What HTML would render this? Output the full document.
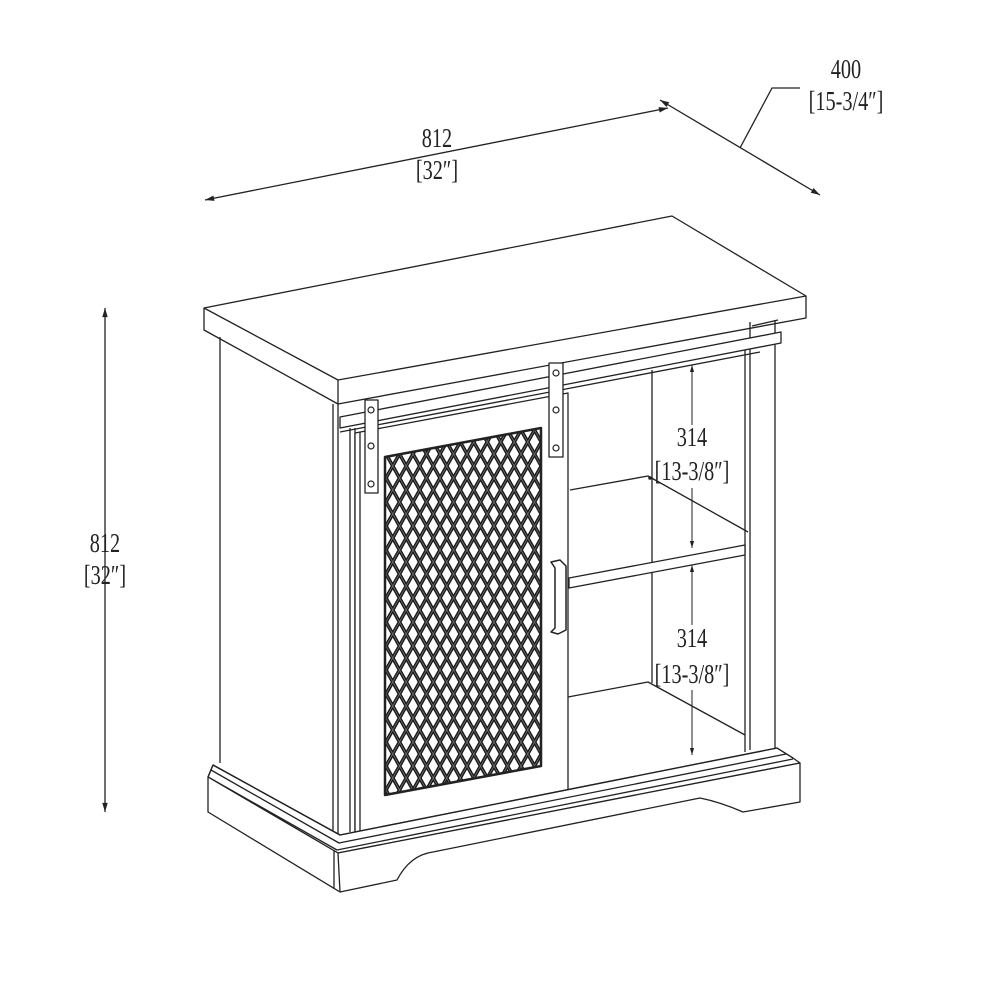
<!DOCTYPE html>
<html><head><style>
html,body{margin:0;padding:0;background:#fff;}
svg{display:block}
text{font-family:"Liberation Serif",serif;font-size:27px;fill:#222;}
</style></head><body>
<svg width="1000" height="1000" viewBox="0 0 1000 1000" xmlns="http://www.w3.org/2000/svg">
<defs>
<marker id="ar" viewBox="0 0 10 10" refX="10" refY="5" markerWidth="9" markerHeight="7" orient="auto-start-reverse"><path d="M0,2 L10,5 L0,8z" fill="#222"/></marker>
<pattern id="mesh" x="386" y="430" width="13.5" height="24" patternUnits="userSpaceOnUse">
<path d="M-6.75,-12 L20.25,36 M20.25,-12 L-6.75,36" stroke="#1a1a1a" stroke-width="3.6" fill="none"/>
<path d="M-6.75,-12 L20.25,36 M20.25,-12 L-6.75,36" stroke="#777" stroke-width="0.7" fill="none"/>
</pattern>
</defs>
<g fill="none" stroke="#222" stroke-width="1.3" stroke-linejoin="round">
<line x1="205" y1="200" x2="668" y2="108" marker-start="url(#ar)" marker-end="url(#ar)"/>
<line x1="660" y1="100" x2="820" y2="195" marker-start="url(#ar)" marker-end="url(#ar)"/>
<polyline points="740,148 772,88 800,88"/>
<line x1="105" y1="308" x2="105" y2="812" marker-start="url(#ar)" marker-end="url(#ar)"/>
<line x1="692" y1="365" x2="692" y2="425" marker-start="url(#ar)" stroke-width="1"/>
<line x1="692" y1="488" x2="692" y2="548" marker-end="url(#ar)" stroke-width="1"/>
<line x1="692" y1="565" x2="692" y2="625" marker-start="url(#ar)" stroke-width="1"/>
<line x1="692" y1="690" x2="692" y2="755" marker-end="url(#ar)" stroke-width="1"/>
<polygon points="204,308 672,216 806,296 338,380" fill="#fff"/>
<polyline points="204,308 204,330 338,404 806,318 806,296"/>
<line x1="338" y1="380" x2="338" y2="404"/>
<line x1="220" y1="337" x2="220" y2="763"/>
<line x1="333" y1="404" x2="333" y2="832"/>
<line x1="338" y1="404" x2="338" y2="834"/>
<line x1="350" y1="428" x2="350" y2="832"/>
<line x1="355" y1="428" x2="355" y2="832"/>
<line x1="750" y1="322" x2="750" y2="750"/>
<line x1="775" y1="320" x2="775" y2="748"/>
<line x1="745" y1="350" x2="745" y2="752"/>
<line x1="752" y1="326" x2="778" y2="320"/>
<polygon points="340,417 781,332 781,343 340,428" fill="#fff"/>
<line x1="340" y1="432" x2="760" y2="352"/>
<polygon points="355,433 568,393 568,790 355,832" fill="#fff"/>
<line x1="360" y1="432" x2="360" y2="831"/>
<polygon points="385,457 541,428 541,766 385,795" fill="url(#mesh)" stroke-width="2.5"/>
<path d="M551,562 L560,560 L566,566 L566,630 L558,634 L551,632 L555,628 L555,568 Z" stroke-width="1.5"/>
<rect x="365" y="400" width="13" height="93" fill="#fff"/>
<rect x="549" y="363" width="14" height="94" fill="#fff"/>
<g fill="#fff" stroke-width="1.2">
<circle cx="371" cy="410" r="3"/><circle cx="371" cy="446" r="3"/><circle cx="371" cy="484" r="3"/>
<circle cx="556" cy="373" r="3"/><circle cx="556" cy="410" r="3"/><circle cx="556" cy="448" r="3"/>
</g>
<line x1="652" y1="370" x2="652" y2="683"/>
<polyline points="570,490 648,476 748,532"/>
<polygon points="569,578 745,545 745,555 569,588" fill="#fff"/>
<polyline points="568,697 648,682 745,735"/>
<polygon points="213,765 340,835 777,748 793,758 800,763 338,853 208,777" fill="#fff"/>
<polyline points="213,765 340,835 777,748 793,758"/>
<polyline points="211,770 339,843 786,754"/>
<polyline points="208,777 337,850 793,759"/>
<line x1="213" y1="765" x2="208" y2="777"/>
<path d="M208,777 L208,812 L340,892 L397,880 Q410,855 433,852 L700,798 Q720,802 743,812 L800,802 L800,763 L338,853 L208,777" fill="#fff"/>
<line x1="338" y1="853" x2="340" y2="892"/>
<line x1="334" y1="850" x2="334" y2="888"/>
</g>
<circle cx="650" cy="478" r="1.8" fill="#222"/>
<g text-anchor="middle">
<text x="437" y="147" transform="translate(437 0) scale(0.75 1) translate(-437 0)">812</text>
<text x="437" y="179" transform="translate(437 0) scale(0.75 1) translate(-437 0)">[32″]</text>
<text x="846" y="78" transform="translate(846 0) scale(0.75 1) translate(-846 0)">400</text>
<text x="846" y="110" transform="translate(846 0) scale(0.75 1) translate(-846 0)">[15-3/4″]</text>
<text x="105" y="552" transform="translate(105 0) scale(0.75 1) translate(-105 0)">812</text>
<text x="105" y="584" transform="translate(105 0) scale(0.75 1) translate(-105 0)">[32″]</text>
<text x="692" y="446" transform="translate(692 0) scale(0.75 1) translate(-692 0)">314</text>
<text x="692" y="480" transform="translate(692 0) scale(0.75 1) translate(-692 0)">[13-3/8″]</text>
<text x="692" y="647" transform="translate(692 0) scale(0.75 1) translate(-692 0)">314</text>
<text x="692" y="683" transform="translate(692 0) scale(0.75 1) translate(-692 0)">[13-3/8″]</text>
</g>
</svg>
</body></html>
